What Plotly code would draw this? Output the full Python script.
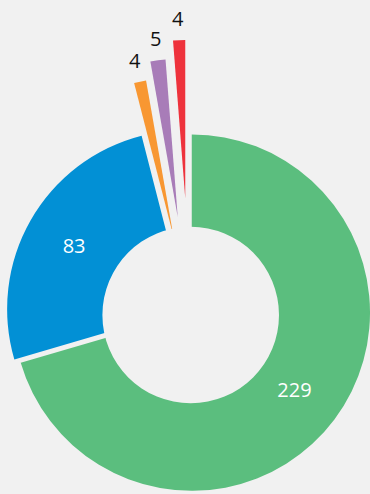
import math
import plotly.graph_objects as go

# Slice data
labels = ["Category A", "Category B", "Category C", "Category D", "Category E"]
values = [229, 83, 4, 5, 4]

# Styles
colors = ["#5bbe7e", "#0290d5", "#f89732", "#a87cb8", "#ee323c"]
BG = "#f1f1f1"
FONT = "Open Sans"
FONT_SIZE = 20

# Geometry (pixels, origin top-left)
W, H = 370, 494
CENTER = (189.6, 311.0)
RADII = [179, 179, 158, 158, 158]
OFFSETS = [2.7, 4.0, 76.7, 94.7, 113.0]   # how far each slice is pulled out
HOLE_CENTER = (190.7, 315.0)
HOLE_R = 88.3
RING_HOLE = 0.44          # inner fraction used to place the inside labels
LABEL_GAP = 22            # outside-label distance beyond the slice edge


def domain(cx, cy, r):
    r = min(r, cx, W - cx, cy, H - cy)
    x0, x1 = max(0.0, (cx - r) / W), min(1.0, (cx + r) / W)
    y0, y1 = max(0.0, 1 - (cy + r) / H), min(1.0, 1 - (cy - r) / H)
    return dict(x=[x0, x1], y=[y0, y1])


total = sum(values)
n = len(values)
fig = go.Figure()
annotations = []

cum = 0
for i, (lab, val, col) in enumerate(zip(labels, values, colors)):
    mid = math.radians((cum + val / 2) / total * 360)
    cum += val
    ux, uy = math.sin(mid), -math.cos(mid)
    cx = CENTER[0] + OFFSETS[i] * ux
    cy = CENTER[1] + OFFSETS[i] * uy
    r = RADII[i]
    inside = val / total > 0.1

    slice_colors = [col if j == i else "rgba(0,0,0,0)" for j in range(n)]
    text = [str(values[j]) if (j == i and inside) else "" for j in range(n)]

    fig.add_trace(go.Pie(
        labels=labels,
        values=values,
        sort=False,
        direction="clockwise",
        rotation=0,
        hole=RING_HOLE if inside else 0,
        marker=dict(colors=slice_colors, line=dict(width=0)),
        text=text,
        textinfo="text" if inside else "none",
        textposition="inside",
        insidetextorientation="horizontal",
        insidetextfont=dict(family=FONT, size=FONT_SIZE, color="white"),
        hoverinfo="skip",
        showlegend=False,
        domain=domain(cx, cy, r),
    ))

    if not inside:
        lx = cx + (r + LABEL_GAP) * ux
        ly = cy + (r + LABEL_GAP) * uy
        annotations.append(dict(
            x=lx / W, y=1 - ly / H, xref="paper", yref="paper",
            text=str(val), showarrow=False,
            xanchor="center", yanchor="middle",
            font=dict(family=FONT, size=FONT_SIZE, color="#111111"),
        ))

# Centre hole drawn over the slices
fig.add_trace(go.Pie(
    values=[1],
    sort=False,
    marker=dict(colors=[BG], line=dict(width=0)),
    textinfo="none",
    hoverinfo="skip",
    showlegend=False,
    domain=domain(HOLE_CENTER[0], HOLE_CENTER[1], HOLE_R),
))

fig.update_layout(
    width=W,
    height=H,
    margin=dict(l=0, r=0, t=0, b=0),
    paper_bgcolor=BG,
    plot_bgcolor=BG,
    showlegend=False,
    annotations=annotations,
)

fig.write_html("out.html")
